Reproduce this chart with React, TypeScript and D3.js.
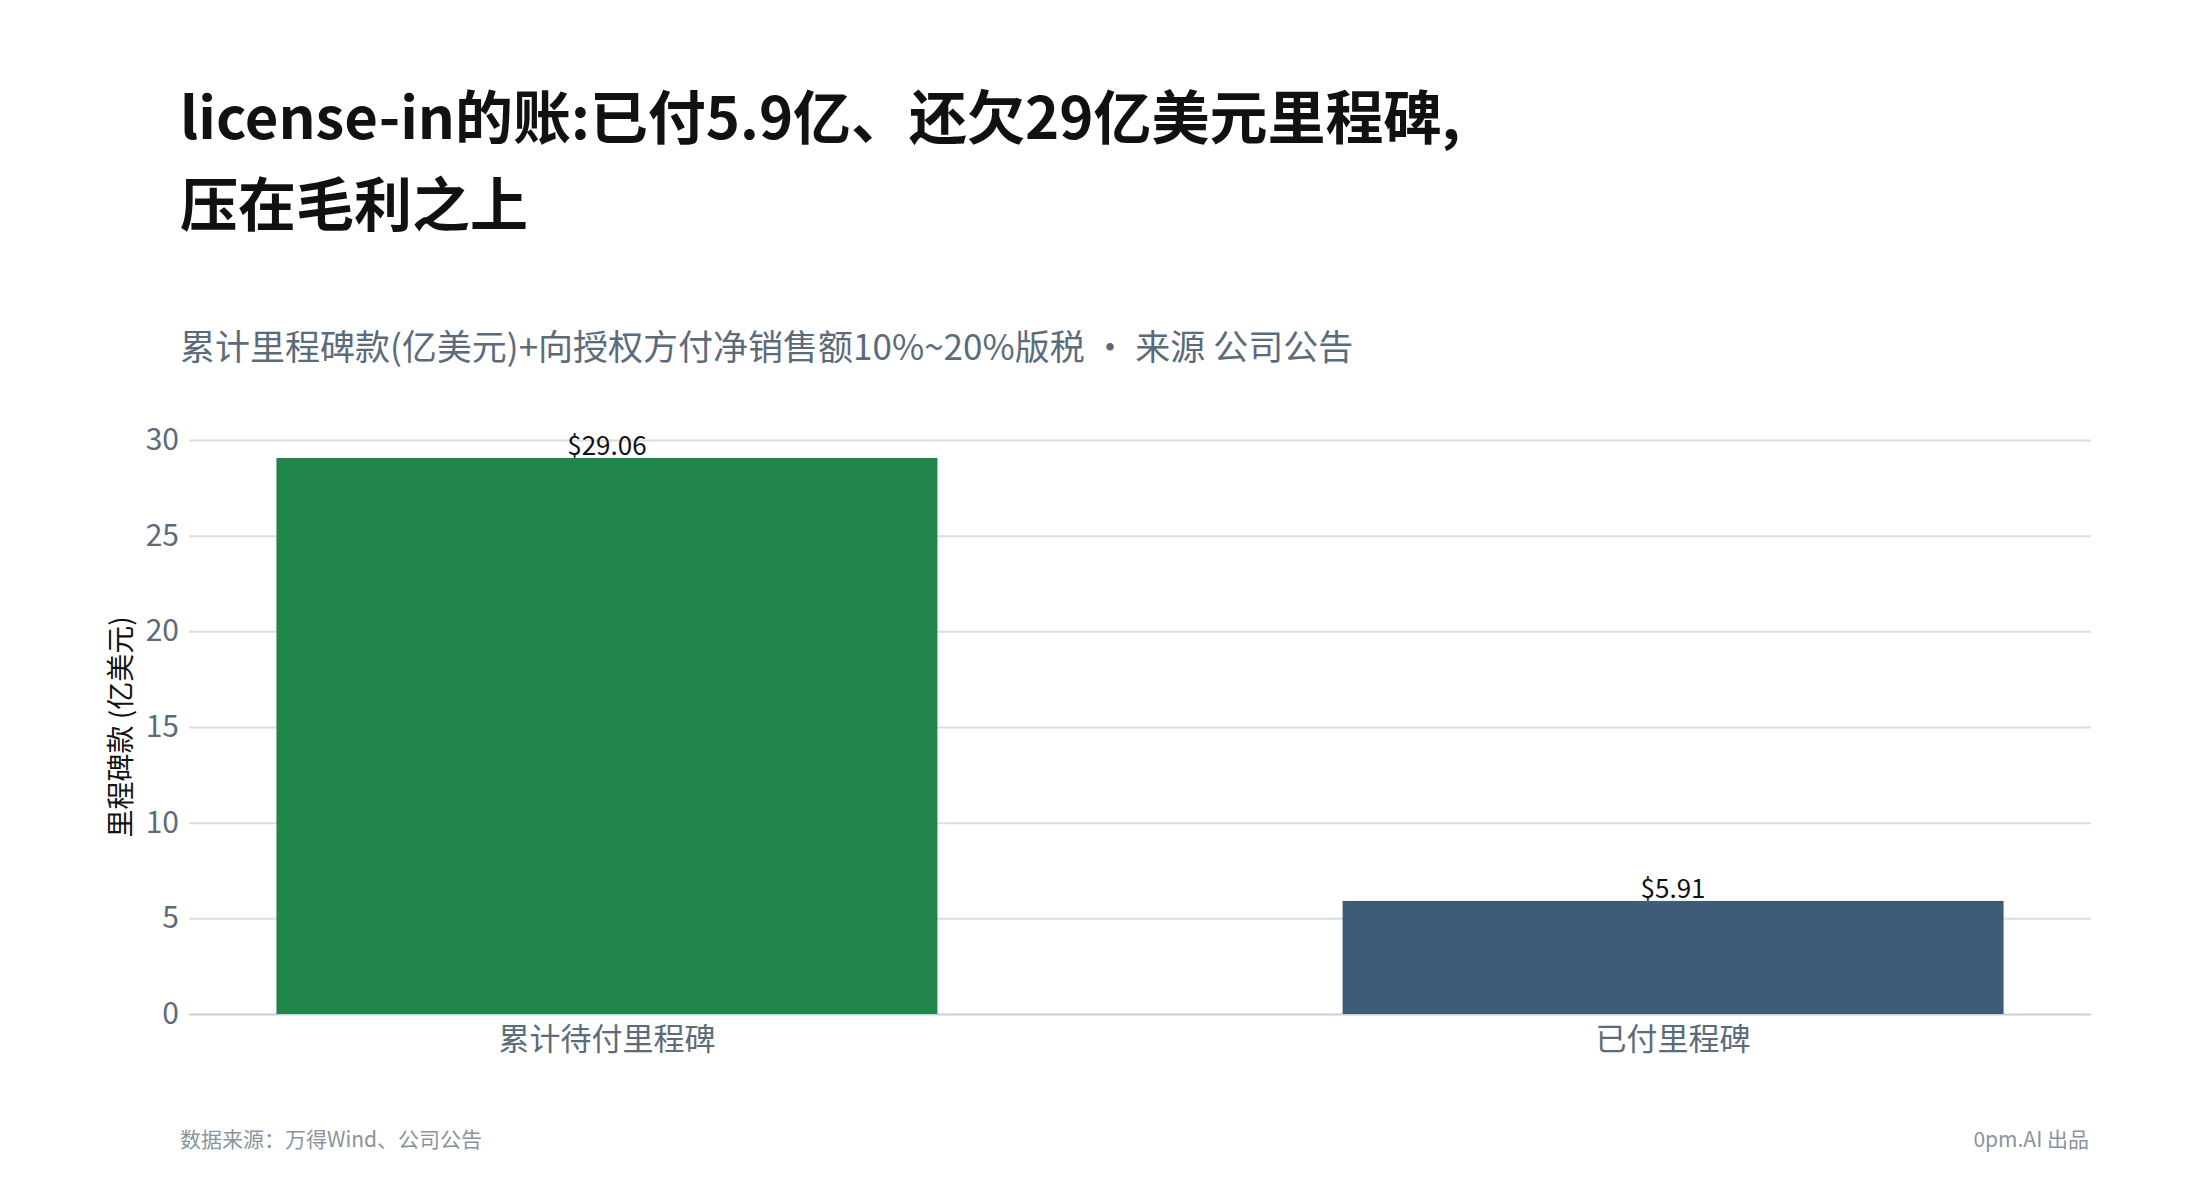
import { useEffect, useRef } from "react"
import * as d3 from "d3"

const categories = ["累计待付里程碑", "已付里程碑"]
const values = [29.06, 5.91]
const barColors = ["#20864a", "#3e5c77"]
const yTicks = [0, 5, 10, 15, 20, 25, 30]

const FONT = "'Noto Sans CJK SC', 'Noto Sans', sans-serif"
const W = 2200, H = 1200
const m = { top: 440, right: 109, bottom: 186, left: 189 }

export default function App() {
  const ref = useRef<SVGSVGElement>(null)
  useEffect(() => {
    if (!ref.current) return
    const svg = d3.select(ref.current)
    svg.selectAll("*").remove()
    const iw = W - m.left - m.right
    const ih = H - m.top - m.bottom

    svg.append("rect").attr("width", W).attr("height", H).attr("fill", "#fff")

    // title + subtitle
    const title = svg.append("text").attr("x", 180).style("font-family", FONT)
      .style("font-weight", 700).style("font-size", "58px").style("fill", "#111")
    title.append("tspan").attr("x", 180).attr("y", 139).text("license-in的账:已付5.9亿、还欠29亿美元里程碑,")
    title.append("tspan").attr("x", 180).attr("y", 226).text("压在毛利之上")
    svg.append("text").attr("x", 180).attr("y", 360).style("font-family", FONT)
      .style("font-size", "35px").style("fill", "#5b6b7c")
      .text("累计里程碑款(亿美元)+向授权方付净销售额10%~20%版税 · 来源 公司公告")

    const g = svg.append("g").attr("transform", `translate(${m.left},${m.top})`)
    const x = d3.scaleBand().domain(categories).range([0, iw]).paddingInner(0.38).paddingOuter(0.082)
    const y = d3.scaleLinear().domain([0, 30]).range([ih, 0])

    g.append("g").call(d3.axisLeft(y).tickValues(yTicks).tickSize(-iw).tickPadding(10))
      .call(a => {
        a.select(".domain").remove()
        a.selectAll(".tick line").style("stroke", d => d === 0 ? "#c6d0da" : "#d9dee4").style("stroke-width", 2)
        a.selectAll(".tick text").style("fill", "#5b6b7c").style("font-size", "30px").style("font-family", FONT)
      })

    g.selectAll("rect.bar").data(values).join("rect").attr("class", "bar")
      .attr("x", (_, i) => x(categories[i])!).attr("y", d => y(d))
      .attr("width", x.bandwidth()).attr("height", d => ih - y(d))
      .attr("fill", (_, i) => barColors[i])

    g.selectAll("text.val").data(values).join("text").attr("class", "val")
      .attr("x", (_, i) => x(categories[i])! + x.bandwidth() / 2).attr("y", d => y(d) - 3)
      .attr("text-anchor", "middle").style("font-family", FONT).style("font-size", "26px").style("fill", "#111")
      .text(d => `$${d.toFixed(2)}`)

    g.append("g").attr("transform", `translate(0,${ih})`).call(d3.axisBottom(x).tickSize(0).tickPadding(14))
      .call(a => {
        a.select(".domain").remove()
        a.selectAll(".tick text").style("fill", "#5b6b7c").style("font-size", "31px").style("font-family", FONT)
      })

    g.append("text").attr("transform", "rotate(-90)").attr("x", -ih / 2).attr("y", -58)
      .attr("text-anchor", "middle").style("font-family", FONT).style("font-size", "28px").style("fill", "#111")
      .text("里程碑款 (亿美元)")

    // footer
    svg.append("text").attr("x", 180).attr("y", 1147).style("font-family", FONT)
      .style("font-size", "21px").style("fill", "#8a949f").text("数据来源：万得Wind、公司公告")
    svg.append("text").attr("x", 2089).attr("y", 1147).attr("text-anchor", "end").style("font-family", FONT)
      .style("font-size", "21px").style("fill", "#8a949f").text("0pm.AI 出品")
  }, [])
  return <svg ref={ref} width={W} height={H} style={{ position: "absolute", left: 0, top: 0, display: "block" }} />
}
